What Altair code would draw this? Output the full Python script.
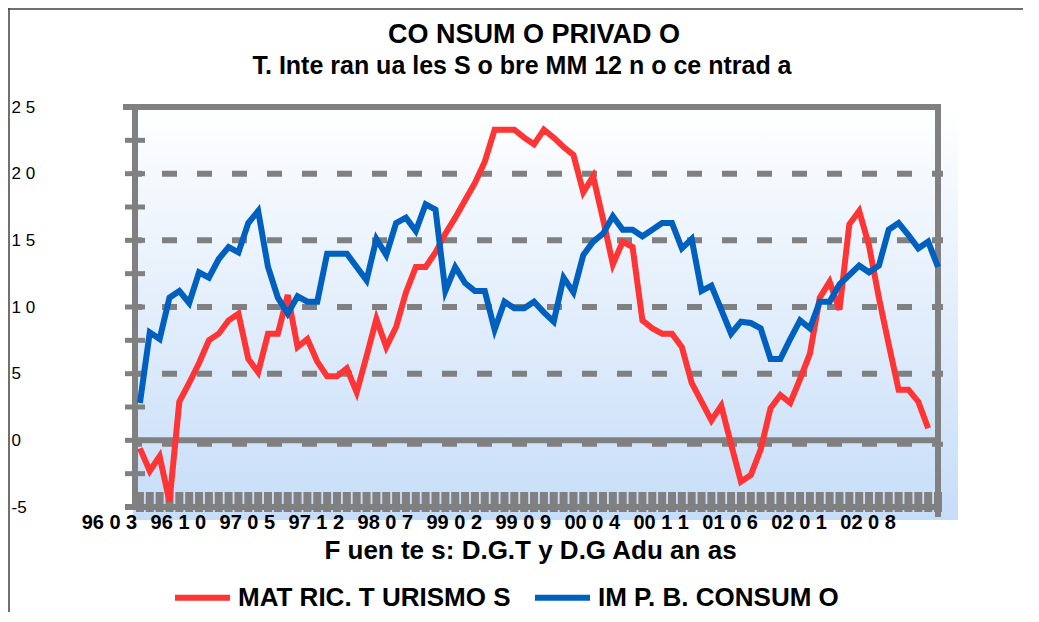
import altair as alt
import pandas as pd

# ---------------- data ----------------
TITLE = "CO NSUM O PRIVAD O"
SUBTITLE = "T. Inte ran ua les S o bre MM 12 n o ce ntrad a"
SOURCE = "F uen te s:  D.G.T  y D.G  Adu an as"
SERIES = ["MAT RIC. T URISMO S", "IM P. B. CONSUM O"]
COLORS = ["#FF3535", "#0060BF"]

X_TICK_LABELS = ["96 0 3", "96 1 0", "97 0 5", "97 1 2", "98 0 7", "99 0 2",
                 "99 0 9", "00 0 4", "00 1 1", "01 0 6", "02 0 1", "02 0 8"]
X_TICK_STEP = 7
Y_TICK_VALUES = [-5, 0, 5, 10, 15, 20, 25]
Y_TICK_LABELS = ["-5", "0", "5", "1 0", "1 5", "2 0", "2 5"]
Y_GRID = [5, 10, 15, 20]
Y_ZERO = [0]
Y_MINOR_TICKS = [-5, -2.5, 0, 2.5, 5, 7.5, 10, 12.5, 15, 17.5, 20, 22.5, 25]

matric_turismos = [
    -0.6, -2.3, -1.2, -4.6, 2.9, 4.3, 5.8, 7.5, 8.0, 9.0,
    9.5, 6.1, 5.1, 8.0, 8.0, 10.9, 7.0, 7.6, 5.9, 4.8,
    4.8, 5.4, 3.6, 6.3, 9.1, 7.0, 8.5, 11.1, 13.0, 13.0,
    14.1, 15.5, 16.7, 18.0, 19.3, 20.9, 23.3, 23.3, 23.3, 22.7,
    22.2, 23.3, 22.7, 22.0, 21.4, 18.6, 19.8, 16.6, 13.2, 14.9,
    14.5, 9.0, 8.4, 8.0, 8.0, 7.0, 4.3, 2.9, 1.5, 2.6,
    -0.3, -3.1, -2.6, -0.7, 2.4, 3.4, 2.8, 4.6, 6.5, 10.7,
    11.9, 9.8, 16.2, 17.2, 14.6, 10.7, 7.2, 3.8, 3.8, 2.9,
    0.9,
]
imp_b_consumo = [
    2.8, 8.1, 7.6, 10.7, 11.2, 10.3, 12.6, 12.2, 13.6, 14.5,
    14.1, 16.3, 17.2, 13.0, 10.7, 9.5, 10.8, 10.4, 10.4, 14.0,
    14.0, 14.0, 13.0, 12.0, 15.1, 13.9, 16.3, 16.7, 15.7, 17.7,
    17.3, 11.2, 13.0, 11.8, 11.2, 11.2, 8.3, 10.4, 9.9, 9.9,
    10.4, 9.6, 8.9, 12.2, 11.1, 13.9, 14.9, 15.5, 16.8, 15.8,
    15.8, 15.3, 15.8, 16.3, 16.3, 14.4, 15.1, 11.2, 11.6, 9.8,
    8.0, 8.9, 8.8, 8.4, 6.1, 6.1, 7.6, 9.0, 8.4, 10.4,
    10.4, 11.7, 12.4, 13.1, 12.6, 13.1, 15.8, 16.3, 15.4, 14.4,
    14.9, 13.0,
]

rows = []
for i, v in enumerate(matric_turismos):
    rows.append({"i": i, "v": v, "serie": SERIES[0]})
for i, v in enumerate(imp_b_consumo):
    rows.append({"i": i, "v": v, "serie": SERIES[1]})
df = pd.DataFrame(rows)
idx_df = pd.DataFrame({"i": list(range(len(imp_b_consumo)))})
grid_df = pd.DataFrame({"v": Y_GRID})
zero_df = pd.DataFrame({"v": Y_ZERO})
minor_df = pd.DataFrame({"v": Y_MINOR_TICKS})
one_df = pd.DataFrame({"k": [0]})

# ---------------- style ----------------
FONT = "Liberation Sans"
GRAY = "#808080"
W, H = 803, 400

X_SCALE = alt.Scale(domain=[-0.5, len(imp_b_consumo) - 1], nice=False, zero=False)
Y_SCALE = alt.Scale(domain=[-5, 25], nice=False, zero=False)

x_label_expr = "[" + ",".join("'%s'" % s for s in X_TICK_LABELS) + "][round(datum.value/%d)]" % X_TICK_STEP
y_label_expr = "[" + ",".join("'%s'" % s for s in Y_TICK_LABELS) + "][round((datum.value+5)/5)]"

X_AXIS = alt.Axis(values=list(range(0, len(X_TICK_LABELS) * X_TICK_STEP, X_TICK_STEP)),
                  labelExpr=x_label_expr, ticks=False, domain=False, grid=False,
                  labelFlush=False, labelOverlap=False, labelOffset=-31,
                  labelPadding=5, labelFont=FONT, labelFontSize=20,
                  labelFontWeight="bold", labelColor="black", zindex=1,
                  title=SOURCE, titleFont=FONT, titleFontSize=26,
                  titleFontWeight="bold", titleColor="black",
                  titleX=395, titleY=51, titleAlign="center",
                  titleBaseline="alphabetic")
Y_AXIS = alt.Axis(values=Y_TICK_VALUES, labelExpr=y_label_expr, ticks=False,
                  domain=False, grid=False, labelAlign="left",
                  labelPadding=124, labelFont=FONT, labelFontSize=17,
                  labelColor="black", zindex=1, title=None)


def xenc():
    return alt.X("i:Q", scale=X_SCALE, axis=X_AXIS)


def yenc():
    return alt.Y("v:Q", scale=Y_SCALE, axis=Y_AXIS)


gradient = alt.Gradient(
    gradient="linear",
    stops=[alt.GradientStop(color="#FFFFFF", offset=0),
           alt.GradientStop(color="#C6DDF8", offset=1)],
    x1=0, x2=0, y1=0, y2=1,
)

bg = alt.Chart(one_df).mark_rect(fill=gradient).encode(
    x=alt.value(-2), x2=alt.value(W + 20), y=alt.value(-2), y2=alt.value(H + 13)
)

grid = alt.Chart(grid_df).mark_rule(
    color=GRAY, strokeWidth=6, strokeDash=[15, 20], strokeDashOffset=8
).encode(y=yenc(), x=alt.value(0), x2=alt.value(W + 5))

zero_dash = alt.Chart(zero_df).mark_rule(
    color=GRAY, strokeWidth=5, strokeDash=[15, 20], strokeDashOffset=8, yOffset=4
).encode(y=yenc(), x=alt.value(0), x2=alt.value(W + 5))

zero = alt.Chart(zero_df).mark_rule(color=GRAY, strokeWidth=6).encode(
    y=yenc(), x=alt.value(0), x2=alt.value(W)
)

yticks = alt.Chart(minor_df).mark_rule(color=GRAY, strokeWidth=5).encode(
    y=yenc(), x=alt.value(-10), x2=alt.value(10),
)

xticks = alt.Chart(idx_df).mark_rule(color=GRAY, strokeWidth=8).encode(
    x=xenc(), y=alt.value(H - 15), y2=alt.value(H + 5),
)


def hrule(x1, x2, y, color=GRAY, width=6):
    return alt.Chart(one_df).mark_rule(color=color, strokeWidth=width).encode(
        x=alt.value(x1), x2=alt.value(x2), y=alt.value(y))


def vrule(x, y1, y2, color=GRAY, width=6):
    return alt.Chart(one_df).mark_rule(color=color, strokeWidth=width).encode(
        x=alt.value(x), y=alt.value(y1), y2=alt.value(y2))


frame_top = hrule(-12, W + 2, 0)
frame_left = vrule(0, 0, H + 2)
frame_right = vrule(W, -3, H + 10)
frame_bottom = hrule(-10, W + 3, H)
border_left = vrule(-126, -99, H + 110, "#404040", 1.5)
border_top = hrule(-127, W + 90, -98, "#404040", 1.5)

lines = alt.Chart(df).mark_line(strokeWidth=6, strokeJoin="miter").encode(
    x=xenc(),
    y=yenc(),
    color=alt.Color("serie:N", scale=alt.Scale(domain=SERIES, range=COLORS),
                    legend=alt.Legend(orient="none", legendX=37, legendY=460,
                                      direction="horizontal", title=None,
                                      symbolType="stroke", symbolSize=3025,
                                      symbolStrokeWidth=6, labelFont=FONT,
                                      labelFontSize=26, labelFontWeight="bold",
                                      labelColor="black", labelOffset=5,
                                      labelLimit=500, columnPadding=12, padding=0)),
)

title = alt.Chart(one_df).mark_text(
    text=TITLE, font=FONT, fontSize=27, fontWeight="bold", color="black",
    align="center", baseline="alphabetic"
).encode(x=alt.value(399), y=alt.value(-64))

subtitle = alt.Chart(one_df).mark_text(
    text=SUBTITLE, font=FONT, fontSize=25, fontWeight="bold", color="black",
    align="center", baseline="alphabetic"
).encode(x=alt.value(387), y=alt.value(-33))

chart = alt.layer(
    bg, grid, zero_dash, zero, yticks, xticks, frame_top, frame_left, frame_right,
    frame_bottom, border_left, border_top, lines, title, subtitle
).properties(
    width=W, height=H,
    autosize=alt.AutoSizeParams(type="none"),
    padding={"left": 127, "top": 99, "right": 85, "bottom": 105},
).configure_view(stroke="transparent")

chart.save("out.html", embed_options={"renderer": "svg", "actions": False})
